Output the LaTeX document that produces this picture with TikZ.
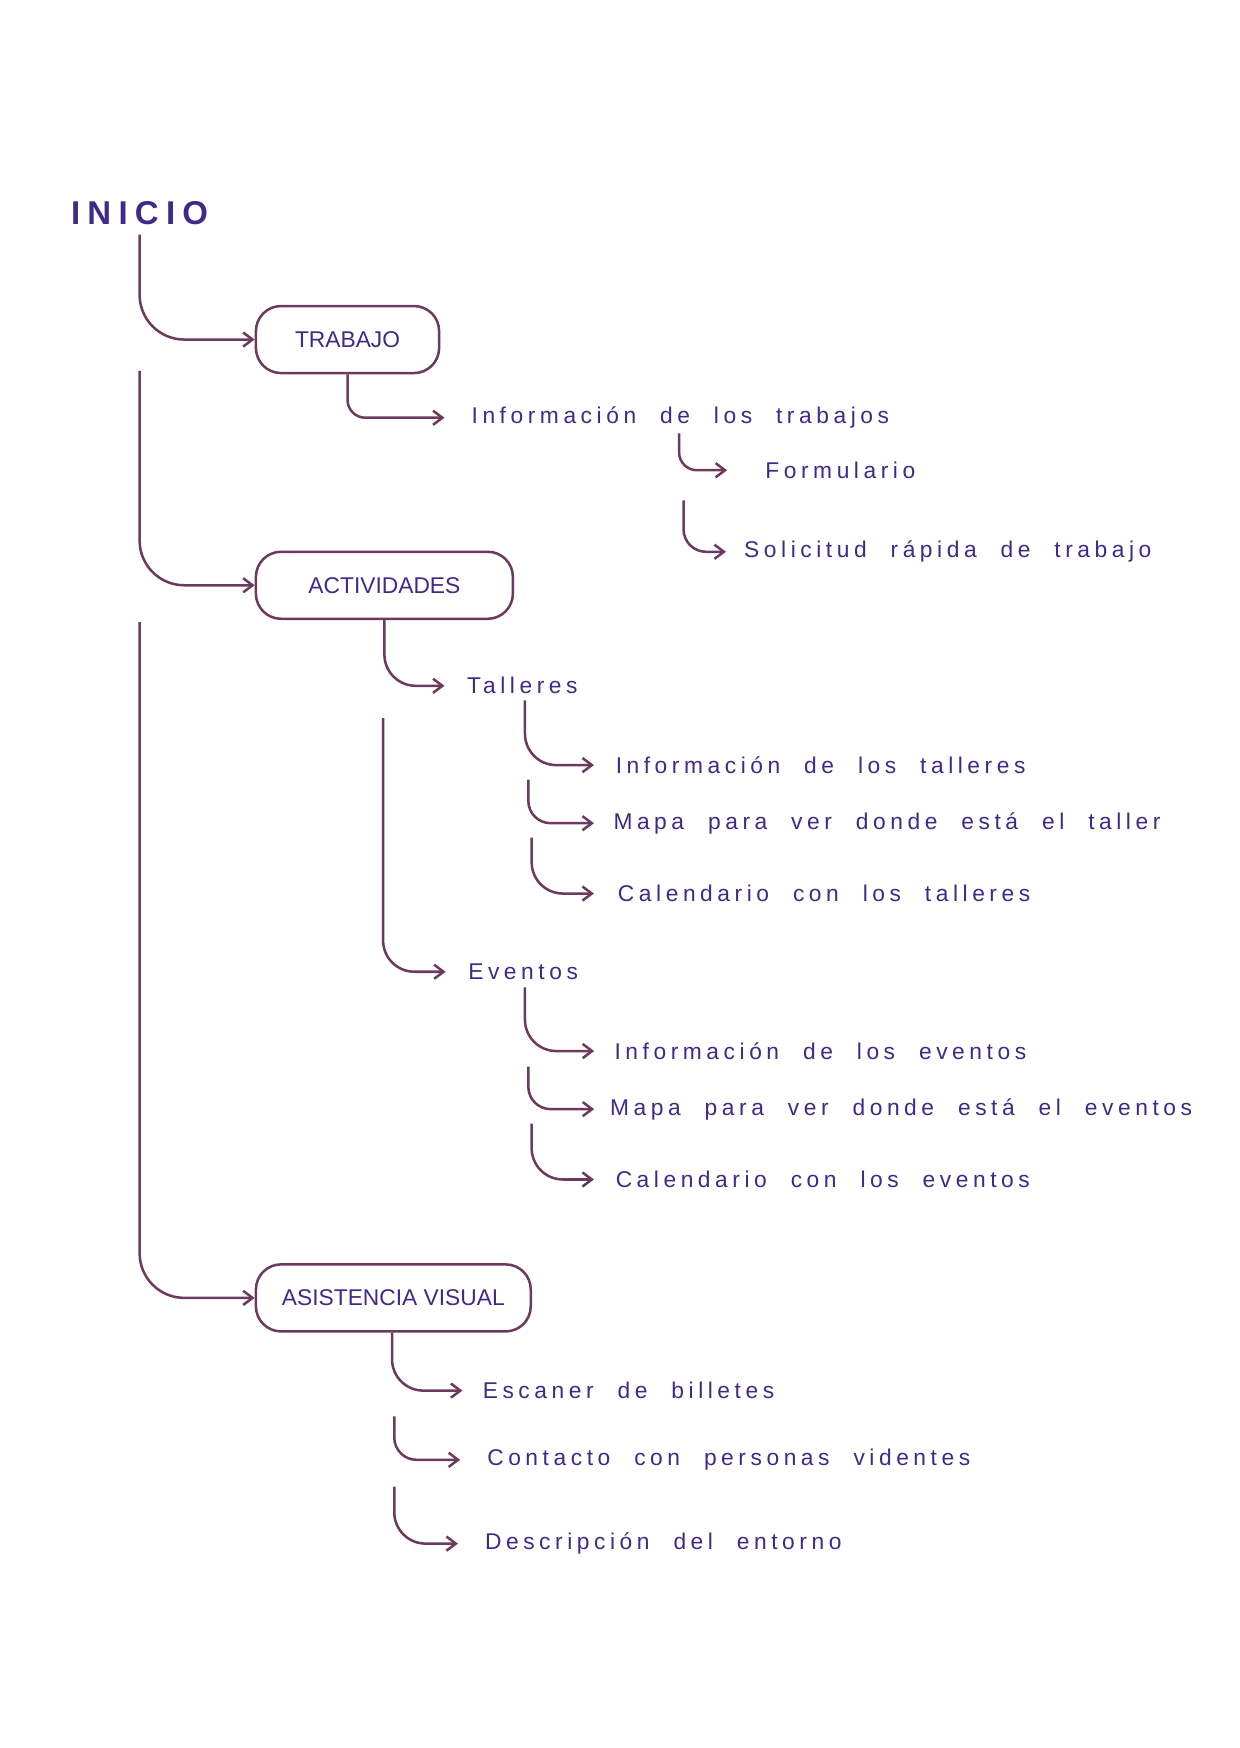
\documentclass[tikz,border=0pt]{standalone}
\usepackage{fontspec}
\setmainfont{Liberation Sans}
\newfontfamily\spaced[LetterSpace=20,WordSpace=2.2]{Liberation Sans}
\newfontfamily\bigspaced[LetterSpace=22]{Liberation Sans}
\usetikzlibrary{positioning,arrows.meta}
\definecolor{ink}{HTML}{3F2A87}
\definecolor{plum}{HTML}{6B3A5C}
\tikzset{
  box/.style={draw=plum, line width=1.6pt, rounded corners=16pt, text=ink, font=\fontsize{14.5}{16}\selectfont, inner xsep=10pt, minimum height=1.5cm, anchor=west},
  item/.style={text=ink, font=\spaced\fontsize{14.5}{16}\selectfont, anchor=west, inner sep=0pt},
  conn/.style={draw=plum, line width=1.6pt, rounded corners=1cm, -{Straight Barb[length=6pt,width=9pt,line width=1.6pt]}, shorten >=0.6cm},
  small/.style={conn, rounded corners=0.7cm},
}
\begin{document}
\begin{tikzpicture}[x=0.025cm, y=-0.025cm]
\useasboundingbox (0,0) rectangle (1110,1565);
% heading
\node[text=ink, font=\bigspaced\bfseries\fontsize{21}{23}\selectfont, inner sep=0pt] (inicio) at (125,191) {INICIO};
% main boxes
\node[box, minimum width=4.1cm] (trabajo) at (228,304) {TRABAJO};
\node[box, minimum width=5.75cm] (actividades) at (228,524) {ACTIVIDADES};
\node[box, minimum width=6.15cm] (asistencia) at (228,1162) {ASISTENCIA VISUAL};
\coordinate (t1) at (125,210);
\coordinate (t2) at (125,332);
\coordinate (t3) at (125,557);
\draw[conn, shorten >=0pt] (t1) |- (trabajo.west);
\draw[conn, shorten >=0pt] (t2) |- (actividades.west);
\draw[conn, shorten >=0pt] (t3) |- (asistencia.west);
% trabajo
\node[item] (info) at (422,374) {Información de los trabajos};
\node[item] (form) at (685,421) {Formulario};
\node[item] (soli) at (666,494) {Solicitud rápida de trabajo};
\coordinate (i1) at (608,388);
\coordinate (i2) at (612,448);
\draw[small, rounded corners=0.4cm] (trabajo.south) |- (info.west);
\draw[small, rounded corners=0.4cm, shorten >=0.85cm] (i1) |- (form.west);
\draw[small, rounded corners=0.5cm, shorten >=0.4cm] (i2) |- (soli.west);
% actividades
\node[item] (talleres) at (418,614) {Talleres};
\node[item] (eventos) at (419,870) {Eventos};
\coordinate (a1) at (343,643);
\draw[small, shorten >=0.5cm] (actividades.south) |- (talleres.west);
\draw[small, shorten >=0.5cm] (a1) |- (eventos.west);
\node[item] (tinfo) at (551,685) {Información de los talleres};
\node[item] (tmapa) at (549,737) {Mapa para ver donde está el taller};
\node[item] (tcal) at (553,800) {Calendario con los talleres};
\coordinate (ta) at (470,627);
\coordinate (tb) at (473,698);
\coordinate (tc) at (476,750);
\draw[small, shorten >=0.48cm] (ta) |- (tinfo.west);
\draw[small, shorten >=0.43cm, rounded corners=0.5cm] (tb) |- (tmapa.west);
\draw[small, shorten >=0.53cm] (tc) |- (tcal.west);
\node[item] (einfo) at (550,941) {Información de los eventos};
\node[item] (emapa) at (546,993) {Mapa para ver donde está el eventos};
\node[item] (ecal) at (551,1056) {Calendario con los eventos};
\coordinate (ea) at (470,884);
\coordinate (eb) at (473,955);
\coordinate (ec) at (476,1006);
\draw[small, shorten >=0.45cm] (ea) |- (einfo.west);
\draw[small, shorten >=0.35cm, rounded corners=0.5cm] (eb) |- (emapa.west);
\draw[small, shorten >=0.48cm] (ec) |- (ecal.west);
% asistencia visual
\node[item] (esc) at (432,1245) {Escaner de billetes};
\node[item] (cont) at (436,1307) {Contacto con personas videntes};
\node[item] (desc) at (434,1382) {Descripción del entorno};
\coordinate (v2) at (353,1268);
\coordinate (v3) at (353,1331);
\draw[small, shorten >=0.45cm] (asistencia.south -| 351,0) |- (esc.west);
\draw[small, shorten >=0.6cm, rounded corners=0.5cm] (v2) |- (cont.west);
\draw[small, shorten >=0.6cm] (v3) |- (desc.west);
\end{tikzpicture}
\end{document}
